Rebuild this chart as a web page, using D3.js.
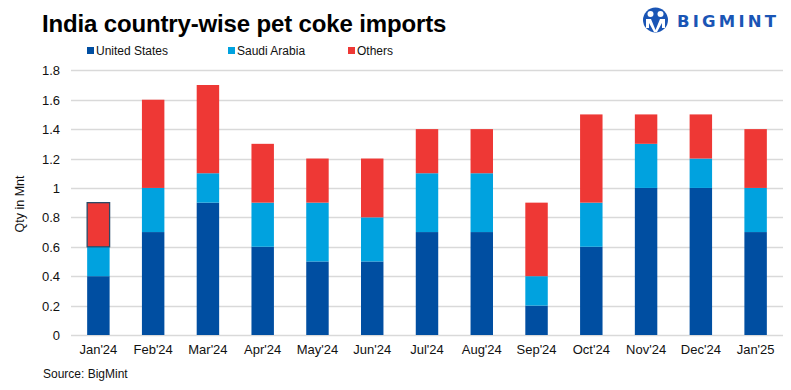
<!DOCTYPE html>
<html><head><meta charset="utf-8">
<script src="https://cdn.jsdelivr.net/npm/d3@7"></script>
<style>
html,body{margin:0;padding:0;background:#fff;}
svg{display:block;font-family:"Liberation Sans",Arial,sans-serif;}
</style></head>
<body><svg id="c" width="791" height="390"></svg>
<script>
const categories = ["Jan'24","Feb'24","Mar'24","Apr'24","May'24","Jun'24","Jul'24","Aug'24","Sep'24","Oct'24","Nov'24","Dec'24","Jan'25"];
const unitedStates = [0.4,0.7,0.9,0.6,0.5,0.5,0.7,0.7,0.2,0.6,1.0,1.0,0.7];
const saudiArabia  = [0.2,0.3,0.2,0.3,0.4,0.3,0.4,0.4,0.2,0.3,0.3,0.2,0.3];
const others       = [0.3,0.6,0.6,0.4,0.3,0.4,0.3,0.3,0.5,0.6,0.2,0.3,0.4];
const seriesNames = ["United States","Saudi Arabia","Others"];
const yTicks = [0,0.2,0.4,0.6,0.8,1,1.2,1.4,1.6,1.8];
const colors = ["#004ea1","#00a2df","#ee3835"];

const svg = d3.select("#c");
const x = d3.scaleBand().domain(categories).range([71,783]).paddingInner(0.59).paddingOuter(0.295);
const y = d3.scaleLinear().domain([0,1.8]).range([335,70.3]);

const rows = categories.map((c,i)=>({cat:c, "United States":unitedStates[i], "Saudi Arabia":saudiArabia[i], "Others":others[i]}));
const stacked = d3.stack().keys(seriesNames)(rows);

// gridlines
svg.append("g").selectAll("line").data(yTicks).join("line")
  .attr("x1",71).attr("x2",783)
  .attr("y1",d=>Math.round(y(d))+0.5).attr("y2",d=>Math.round(y(d))+0.5)
  .attr("stroke","#d9d9d9").attr("stroke-width",1.3);

// bars
svg.append("g").selectAll("g").data(stacked).join("g")
  .attr("fill",(d,i)=>colors[i])
  .selectAll("rect").data(d=>d.map(v=>Object.assign(v,{key:d.key}))).join("rect")
  .attr("x",d=>x(d.data.cat))
  .attr("width",x.bandwidth())
  .attr("y",d=>y(d[1]))
  .attr("height",d=>y(d[0])-y(d[1]))
  .attr("stroke",(d,i)=> (d.key==="Others" && i===0) ? "#2b4a66" : "none")
  .attr("stroke-width",1.3);

// y axis labels
const yAxis = d3.axisLeft(y).tickValues(yTicks).tickSize(0).tickPadding(0).tickFormat(d=>d3.format("")(+d.toFixed(1)));
const ya = svg.append("g").attr("transform","translate(60,0)").call(yAxis);
ya.select(".domain").remove();
ya.selectAll("text").attr("font-size",13).attr("fill","#111").attr("font-family","Liberation Sans, Arial, sans-serif").attr("dy","0.35em");

// x axis labels
const xAxis = d3.axisBottom(x).tickSize(0).tickPadding(0);
const xa = svg.append("g").attr("transform","translate(0,345)").call(xAxis);
xa.select(".domain").remove();
xa.selectAll("text").attr("font-size",13).attr("fill","#111").attr("font-family","Liberation Sans, Arial, sans-serif").attr("dy","0.71em");

// y title
svg.append("text").attr("transform","translate(24,204) rotate(-90)")
  .attr("text-anchor","middle").attr("font-size",12.5).attr("fill","#111").text("Qty in Mnt");

// title
svg.append("text").attr("x",42).attr("y",32).attr("font-size",24).attr("font-weight","bold")
  .attr("letter-spacing","-0.15").attr("fill","#000").text("India country-wise pet coke imports");

// legend
const legX = [87,228,348];
const lg = svg.append("g").selectAll("g").data(seriesNames).join("g")
  .attr("transform",(d,i)=>`translate(${legX[i]},51)`);
lg.append("rect").attr("x",0).attr("y",-4).attr("width",7).attr("height",7).attr("fill",(d,i)=>colors[i]);
lg.append("text").attr("x",9).attr("y",4).attr("font-size",12).attr("fill","#111").text(d=>d);

// source
svg.append("text").attr("x",43).attr("y",378).attr("font-size",12).attr("fill","#111").text("Source: BigMint");

// logo
const logo = svg.append("g").attr("fill","#1a55b5");
logo.append("circle").attr("cx",655.5).attr("cy",20).attr("r",12.5);
logo.append("circle").attr("cx",650.5).attr("cy",14).attr("r",3).attr("fill","#fff");
logo.append("circle").attr("cx",660.5).attr("cy",14).attr("r",3).attr("fill","#fff");
logo.append("path").attr("d","M646,19 L651,19 L655.5,30 L660,19 L665,19 L665,28 L662,28 L662,23 L657,32 L654,32 L649,23 L649,28 L646,28 Z").attr("fill","#fff");
logo.append("text").attr("x",677).attr("y",26.5).attr("font-size",16.5).attr("font-weight","bold")
  .attr("letter-spacing","3.2").attr("font-family","DejaVu Sans, sans-serif").text("BIGMINT");
</script></body></html>
